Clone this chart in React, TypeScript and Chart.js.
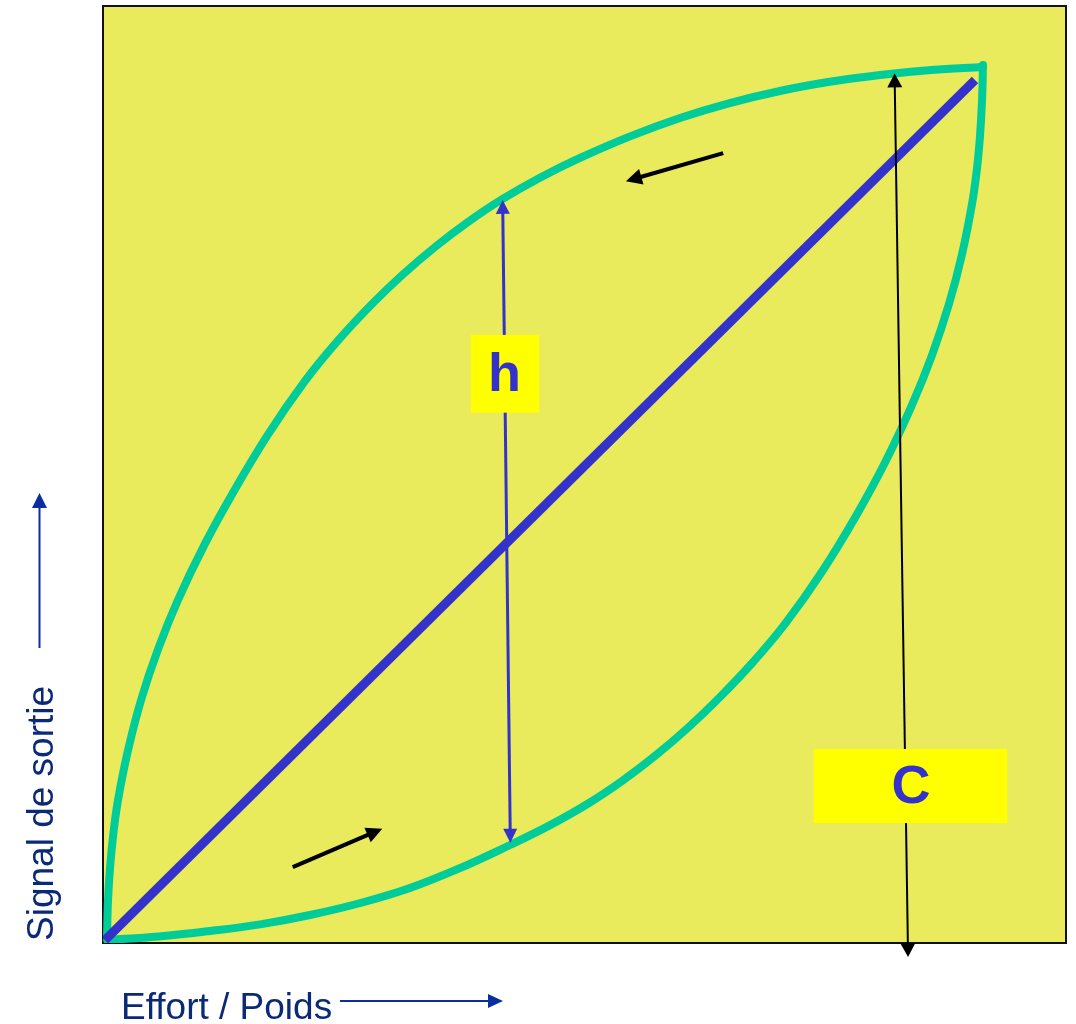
import React, { useEffect, useRef } from "react";
import { Chart, registerables } from "chart.js";

Chart.register(...registerables);

// Hysteresis loop: upper (unloading) branch and lower (loading) branch
const upperX = [0.42, 0.52, 0.73, 1.07, 1.56, 2.61, 3.95, 5.71, 7.79, 10.54, 13.6, 17.11, 20.98, 24.28, 27.83, 31.06, 34.48, 37.83, 41.33, 45.37, 49.53, 54.66, 59.92, 65.07, 70.3, 75.47, 80.69, 86.01, 91.38];
const upperY = [0.85, 4.48, 8.0, 11.63, 15.26, 20.63, 25.93, 31.33, 36.61, 42.51, 48.24, 54.23, 59.98, 64.15, 68.09, 71.28, 74.28, 76.89, 79.3, 81.67, 83.78, 86.06, 88.05, 89.64, 90.93, 91.91, 92.64, 93.17, 93.49];
const lowerX = [0.42, 5.77, 11.11, 16.32, 21.5, 26.73, 31.88, 37.13, 42.26, 46.43, 50.47, 53.97, 57.32, 60.73, 63.97, 67.51, 70.82, 74.69, 78.19, 81.27, 84.01, 86.09, 87.85, 89.2, 90.24, 90.74, 91.07, 91.28, 91.38];
const lowerY = [0.32, 0.69, 1.28, 1.99, 2.99, 4.27, 5.87, 8.02, 10.46, 12.58, 14.94, 17.34, 19.96, 22.96, 26.15, 29.99, 34.05, 39.68, 45.57, 51.41, 57.42, 62.74, 68.2, 73.5, 78.87, 82.49, 86.13, 89.92, 93.7];
// Ideal linear response
const idealX = [0.2, 90.55];
const idealY = [0.3, 92.1];

// Annotation arrows: [x1, y1, x2, y2]
const hArrow = [41.5, 79.3, 42.3, 10.7];
const cArrow = [82.2, 92.8, 83.6, -1.5];
const returnArrow = [64.4, 84.3, 54.3, 81.3];
const loadArrow = [19.7, 8.1, 29.0, 12.2];
// Label boxes: [x1, yTop, x2, yBottom]
const hBox = [38.2, 64.9, 45.3, 56.6];
const cBox = [73.8, 20.7, 93.9, 12.8];
const labelTexts = ["h", "C"];
const labelPos = [
  [41.7, 58.9],
  [83.9, 14.9],
];
const xTitle = "Effort / Poids";
const yTitle = "Signal de sortie";

const toPts = (xs: number[], ys: number[]) => xs.map((x, i) => ({ x, y: ys[i] }));

function drawArrow(
  ctx: CanvasRenderingContext2D,
  x1: number,
  y1: number,
  x2: number,
  y2: number,
  width: number,
  color: string,
  headLen: number,
  headW: number,
  both: boolean
) {
  const ang = Math.atan2(y2 - y1, x2 - x1);
  const cos = Math.cos(ang);
  const sin = Math.sin(ang);
  const sx = both ? x1 + cos * headLen * 0.9 : x1;
  const sy = both ? y1 + sin * headLen * 0.9 : y1;
  const ex = x2 - cos * headLen * 0.9;
  const ey = y2 - sin * headLen * 0.9;
  ctx.save();
  ctx.strokeStyle = color;
  ctx.fillStyle = color;
  ctx.lineWidth = width;
  ctx.lineCap = "butt";
  ctx.beginPath();
  ctx.moveTo(sx, sy);
  ctx.lineTo(ex, ey);
  ctx.stroke();
  const head = (tx: number, ty: number, c: number, s: number) => {
    const bx = tx - c * headLen;
    const by = ty - s * headLen;
    ctx.beginPath();
    ctx.moveTo(tx, ty);
    ctx.lineTo(bx - s * headW, by + c * headW);
    ctx.lineTo(bx + s * headW, by - c * headW);
    ctx.closePath();
    ctx.fill();
  };
  head(x2, y2, cos, sin);
  if (both) head(x1, y1, -cos, -sin);
  ctx.restore();
}

const overlayPlugin = {
  id: "overlay",
  beforeDraw(chart: any) {
    const { ctx, chartArea: a } = chart;
    ctx.save();
    ctx.fillStyle = "#FFFFFF";
    ctx.fillRect(0, 0, chart.width, chart.height);
    ctx.fillStyle = "#E9EB5D";
    ctx.fillRect(a.left, a.top, a.right - a.left, a.bottom - a.top);
    ctx.strokeStyle = "#111111";
    ctx.lineWidth = 2;
    ctx.strokeRect(a.left, a.top, a.right - a.left, a.bottom - a.top);
    ctx.restore();
  },
  afterDatasetsDraw(chart: any) {
    const { ctx, chartArea: a } = chart;
    const xs = chart.scales.x;
    const ys = chart.scales.y;
    const px = (v: number) => xs.getPixelForValue(v);
    const py = (v: number) => ys.getPixelForValue(v);

    drawArrow(ctx, px(hArrow[0]), py(hArrow[1]), px(hArrow[2]), py(hArrow[3]), 3, "#3333CC", 14, 7, true);
    drawArrow(ctx, px(cArrow[0]), py(cArrow[1]), px(cArrow[2]), py(cArrow[3]), 2, "#000000", 14, 7.5, true);
    drawArrow(ctx, px(returnArrow[0]), py(returnArrow[1]), px(returnArrow[2]), py(returnArrow[3]), 4, "#000000", 16, 8, false);
    drawArrow(ctx, px(loadArrow[0]), py(loadArrow[1]), px(loadArrow[2]), py(loadArrow[3]), 4, "#000000", 16, 8, false);

    ctx.save();
    ctx.fillStyle = "#FFFF00";
    [hBox, cBox].forEach((b) => {
      const x1 = px(b[0]);
      const y1 = py(b[1]);
      ctx.fillRect(x1, y1, px(b[2]) - x1, py(b[3]) - y1);
    });
    ctx.fillStyle = "#3333CC";
    ctx.font = "bold 54px 'Liberation Sans', Arial, sans-serif";
    ctx.textAlign = "center";
    ctx.textBaseline = "alphabetic";
    labelTexts.forEach((t, i) => {
      ctx.fillText(t, px(labelPos[i][0]), py(labelPos[i][1]));
    });
    ctx.restore();

    ctx.save();
    ctx.fillStyle = "#0A2A78";
    ctx.font = "37px 'Liberation Sans', Arial, sans-serif";
    ctx.textAlign = "left";
    ctx.textBaseline = "alphabetic";
    ctx.fillText(xTitle, a.left + 18, 1019);
    drawArrow(ctx, 340, 1001, 503, 1001, 2, "#0A2EA0", 15, 7, false);
    ctx.translate(53, a.bottom - 2);
    ctx.rotate(-Math.PI / 2);
    ctx.fillText(yTitle, 0, 0);
    ctx.restore();
    drawArrow(ctx, 39.5, 648, 39.5, 493, 2, "#0A2EA0", 15, 7.5, false);
  },
};

export default function App() {
  const ref = useRef<HTMLCanvasElement | null>(null);
  useEffect(() => {
    if (!ref.current) return;
    const chart = new Chart(ref.current, {
      type: "scatter",
      data: {
        datasets: [
          {
            label: "Idéal",
            data: toPts(idealX, idealY),
            showLine: true,
            borderColor: "#3333CC",
            borderWidth: 9,
            borderCapStyle: "butt",
            pointRadius: 0,
            order: 0,
          },
          {
            label: "Montée",
            data: toPts(lowerX, lowerY),
            showLine: true,
            borderColor: "#00CC99",
            borderWidth: 8,
            borderCapStyle: "round",
            borderJoinStyle: "round",
            tension: 0.4,
            pointRadius: 0,
            order: 1,
          },
          {
            label: "Descente",
            data: toPts(upperX, upperY),
            showLine: true,
            borderColor: "#00CC99",
            borderWidth: 8,
            borderCapStyle: "round",
            borderJoinStyle: "round",
            tension: 0.4,
            pointRadius: 0,
            order: 2,
          },
        ],
      } as any,
      options: {
        animation: false,
        responsive: false,
        devicePixelRatio: 1,
        layout: { padding: { left: 103, right: 10, top: 6, bottom: 81 } },
        scales: {
          x: { type: "linear", min: 0, max: 100, display: false },
          y: { type: "linear", min: 0, max: 100, display: false },
        },
        plugins: { legend: { display: false }, tooltip: { enabled: false } },
      } as any,
      plugins: [overlayPlugin],
    });
    return () => chart.destroy();
  }, []);
  return (
    <div style={{ position: "absolute", left: 0, top: 0, width: 1076, height: 1024 }}>
      <canvas ref={ref} width={1076} height={1024} style={{ display: "block" }} />
    </div>
  );
}
